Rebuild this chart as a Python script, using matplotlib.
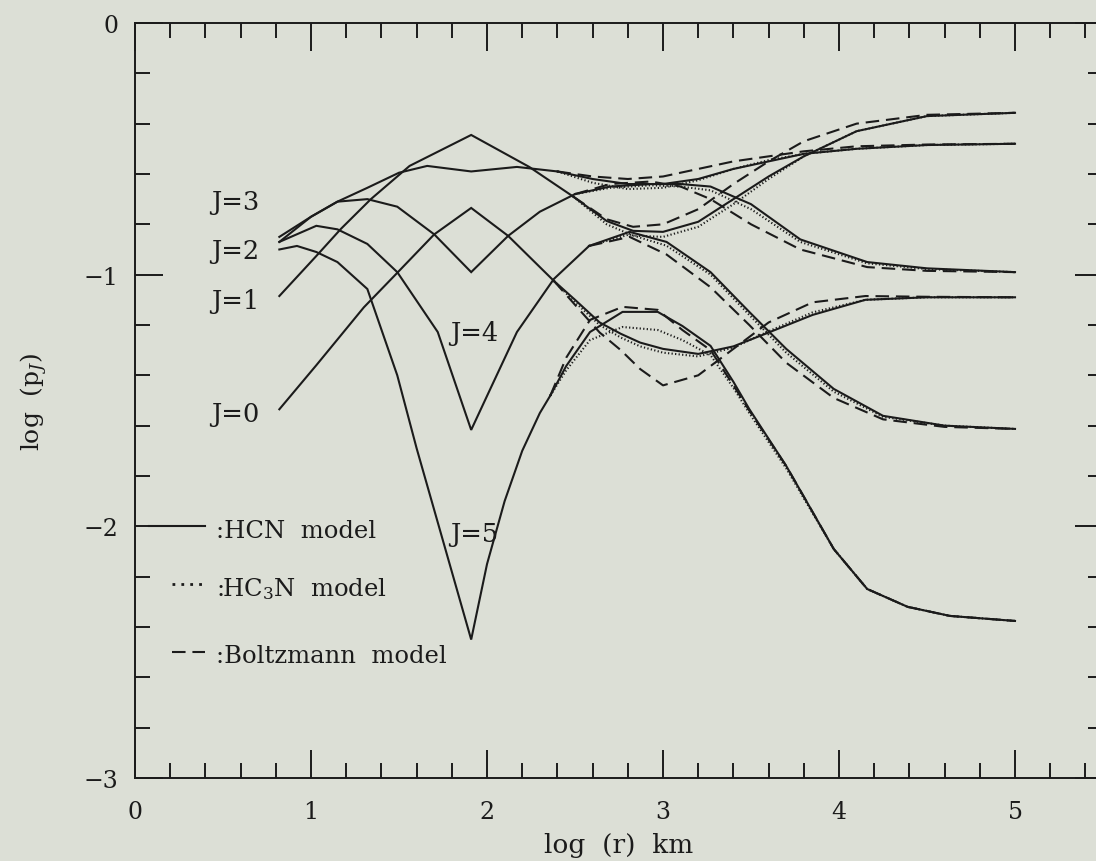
import numpy as np
import matplotlib.pyplot as plt
from matplotlib.ticker import MultipleLocator, FixedLocator, FixedFormatter

plt.rcParams["font.family"] = "DejaVu Serif"
plt.rcParams["mathtext.fontset"] = "dejavuserif"

# level populations log(p_J) against log(r); inner branch is shared by all
# three models, outer branch splits into HCN / HC3N / Boltzmann
j0_x_in = [0.82, 1.03, 1.30, 1.48, 1.70, 1.91, 2.12, 2.38]
j0_y_in = [-1.535, -1.36, -1.13, -1.0, -0.84, -0.735, -0.846, -1.025]
j0_x_out = [2.38, 2.5, 2.64, 2.76, 2.87, 3.0, 3.2, 3.4, 3.6, 3.85, 4.15, 4.5, 5.0]
j0_hcn = [-1.025, -1.10, -1.19, -1.235, -1.27, -1.295, -1.315, -1.285, -1.23, -1.16, -1.10, -1.09, -1.09]
j0_hc3n = [-1.025, -1.11, -1.20, -1.25, -1.285, -1.31, -1.325, -1.29, -1.225, -1.15, -1.10, -1.09, -1.09]
j0_boltz = [-1.025, -1.12, -1.23, -1.30, -1.375, -1.44, -1.40, -1.295, -1.19, -1.11, -1.085, -1.088, -1.09]

j1_x_in = [0.82, 1.03, 1.17, 1.34, 1.56, 1.91, 2.24, 2.49]
j1_y_in = [-1.085, -0.926, -0.818, -0.70, -0.568, -0.445, -0.572, -0.69]
j1_x_out = [2.49, 2.68, 2.83, 3.0, 3.2, 3.4, 3.6, 3.8, 4.1, 4.5, 5.0]
j1_hcn = [-0.69, -0.787, -0.826, -0.83, -0.79, -0.70, -0.61, -0.53, -0.43, -0.37, -0.357]
j1_hc3n = [-0.69, -0.80, -0.845, -0.85, -0.81, -0.72, -0.62, -0.53, -0.43, -0.37, -0.357]
j1_boltz = [-0.69, -0.78, -0.81, -0.80, -0.74, -0.64, -0.55, -0.47, -0.40, -0.365, -0.357]

j2_x_in = [0.82, 1.0, 1.15, 1.32, 1.5, 1.66, 1.91, 2.17, 2.4]
j2_y_in = [-0.85, -0.77, -0.71, -0.655, -0.595, -0.568, -0.59, -0.572, -0.59]
j2_x_out = [2.4, 2.6, 2.8, 3.0, 3.2, 3.4, 3.6, 3.8, 4.1, 4.5, 5.0]
j2_hcn = [-0.59, -0.62, -0.64, -0.64, -0.62, -0.58, -0.55, -0.52, -0.50, -0.485, -0.48]
j2_hc3n = [-0.59, -0.635, -0.66, -0.655, -0.625, -0.58, -0.545, -0.52, -0.50, -0.485, -0.48]
j2_boltz = [-0.59, -0.61, -0.62, -0.61, -0.58, -0.55, -0.53, -0.51, -0.49, -0.483, -0.48]

j3_x_in = [0.82, 1.0, 1.15, 1.32, 1.49, 1.70, 1.91, 2.12, 2.3, 2.5]
j3_y_in = [-0.87, -0.77, -0.71, -0.70, -0.73, -0.84, -0.99, -0.846, -0.75, -0.68]
j3_x_out = [2.5, 2.7, 2.93, 3.1, 3.27, 3.5, 3.78, 4.16, 4.5, 5.0]
j3_hcn = [-0.68, -0.65, -0.64, -0.64, -0.65, -0.72, -0.86, -0.95, -0.975, -0.99]
j3_hc3n = [-0.68, -0.655, -0.645, -0.65, -0.665, -0.74, -0.87, -0.955, -0.978, -0.99]
j3_boltz = [-0.68, -0.64, -0.63, -0.65, -0.70, -0.80, -0.90, -0.97, -0.985, -0.99]

j4_x_in = [0.82, 1.03, 1.15, 1.32, 1.49, 1.72, 1.91, 2.0, 2.17, 2.38, 2.58]
j4_y_in = [-0.87, -0.806, -0.82, -0.878, -0.99, -1.228, -1.617, -1.482, -1.228, -1.017, -0.886]
j4_x_out = [2.58, 2.81, 3.02, 3.27, 3.49, 3.70, 3.97, 4.25, 4.6, 5.0]
j4_hcn = [-0.886, -0.83, -0.87, -0.99, -1.148, -1.295, -1.454, -1.561, -1.60, -1.613]
j4_hc3n = [-0.886, -0.84, -0.885, -1.0, -1.16, -1.31, -1.465, -1.565, -1.60, -1.613]
j4_boltz = [-0.886, -0.85, -0.92, -1.05, -1.20, -1.35, -1.49, -1.575, -1.605, -1.613]

j5_x_in = [0.82, 0.92, 1.03, 1.15, 1.32, 1.49, 1.6, 1.91, 2.0, 2.1, 2.2, 2.3, 2.36]
j5_y_in = [-0.90, -0.886, -0.91, -0.95, -1.057, -1.40, -1.69, -2.45, -2.15, -1.90, -1.70, -1.55, -1.48]
j5_x_out = [2.36, 2.45, 2.585, 2.77, 2.97, 3.11, 3.27, 3.40, 3.49, 3.70, 3.97, 4.16, 4.39, 4.63, 5.0]
j5_hcn = [-1.48, -1.363, -1.228, -1.148, -1.148, -1.204, -1.283, -1.426, -1.534, -1.76, -2.09, -2.249, -2.32, -2.356, -2.376]
j5_hc3n = [-1.48, -1.38, -1.26, -1.208, -1.22, -1.26, -1.32, -1.45, -1.55, -1.77, -2.09, -2.249, -2.32, -2.356, -2.376]
j5_boltz = [-1.48, -1.33, -1.18, -1.128, -1.14, -1.22, -1.30, -1.44, -1.54, -1.76, -2.09, -2.249, -2.32, -2.356, -2.376]

level_names = ["J=0", "J=1", "J=2", "J=3", "J=4", "J=5"]
model_names = [":HCN  model", ":HC$_3$N  model", ":Boltzmann  model"]

x_ticks = [0, 1, 2, 3, 4, 5]
y_ticks = [0, -1, -2, -3]
y_tick_labels = ["0", "\u22121", "\u22122", "\u22123"]

INK = "#1b1b1b"
PAPER = "#dcdfd6"
LW = 1.5
STYLES = ["-", (0, (0.6, 1.1)), (0, (6.5, 3.3))]

fig = plt.figure(figsize=(10.96, 8.62), dpi=100)
fig.patch.set_facecolor(PAPER)
ax = fig.add_axes([0.1232, 0.0963, 0.8832, 0.8759])
ax.set_facecolor(PAPER)

levels = [
    (j0_x_in, j0_y_in, j0_x_out, (j0_hcn, j0_hc3n, j0_boltz)),
    (j1_x_in, j1_y_in, j1_x_out, (j1_hcn, j1_hc3n, j1_boltz)),
    (j2_x_in, j2_y_in, j2_x_out, (j2_hcn, j2_hc3n, j2_boltz)),
    (j3_x_in, j3_y_in, j3_x_out, (j3_hcn, j3_hc3n, j3_boltz)),
    (j4_x_in, j4_y_in, j4_x_out, (j4_hcn, j4_hc3n, j4_boltz)),
    (j5_x_in, j5_y_in, j5_x_out, (j5_hcn, j5_hc3n, j5_boltz)),
]
for x_in, y_in, x_out, outer in levels:
    ax.plot(x_in, y_in, color=INK, lw=LW, ls="-", solid_joinstyle="miter")
    for y_out, ls in zip(outer, STYLES):
        ax.plot(x_out, y_out, color=INK, lw=LW, ls=ls)

# level labels
label_pos = [(0.57, -1.553), (0.57, -1.104), (0.57, -0.906), (0.57, -0.711),
             (1.926, -1.228), (1.926, -2.03)]
for name, (lx, ly) in zip(level_names, label_pos):
    ax.text(lx, ly, name, fontsize=18.5, ha="center", va="center", color=INK)

# model key, drawn by hand beside the left axis
key_rows = [(-2.0, 0.08), (-2.229, 0.21), (-2.499, 0.21)]
for (ky, kx0), ls, name in zip(key_rows, STYLES, model_names):
    dash_ls = (0, (1.0, 2.2)) if ls == STYLES[1] else ls
    lw = 2.0 if ls == STYLES[1] else LW
    ax.plot([kx0, 0.40], [ky, ky], color=INK, lw=lw, ls=dash_ls, clip_on=False)
    ax.text(0.46, ky - 0.016, name, fontsize=17.5, ha="left", va="center", color=INK)

ax.set_xlim(0, 5.5)
ax.set_ylim(-3, 0)
ax.xaxis.set_major_locator(FixedLocator(x_ticks))
ax.xaxis.set_minor_locator(MultipleLocator(0.2))
ax.yaxis.set_major_locator(FixedLocator(y_ticks))
ax.yaxis.set_major_formatter(FixedFormatter(y_tick_labels))
ax.yaxis.set_minor_locator(MultipleLocator(0.2))
ax.tick_params(which="both", direction="in", top=True, right=True,
               color=INK, width=1.4, labelsize=17, labelcolor=INK)
ax.tick_params(which="major", length=20)
ax.tick_params(which="minor", length=10.5)
ax.tick_params(axis="x", pad=16)
ax.tick_params(axis="y", pad=12)
for side in ax.spines.values():
    side.set_color(INK)
    side.set_linewidth(1.4)

ax.set_xlabel("log  (r)  km", fontsize=19, color=INK, labelpad=6)
ax.set_ylabel("log  (p$_J$)", fontsize=18, color=INK, labelpad=24)

fig.savefig("out.png", dpi=100, facecolor=PAPER)
